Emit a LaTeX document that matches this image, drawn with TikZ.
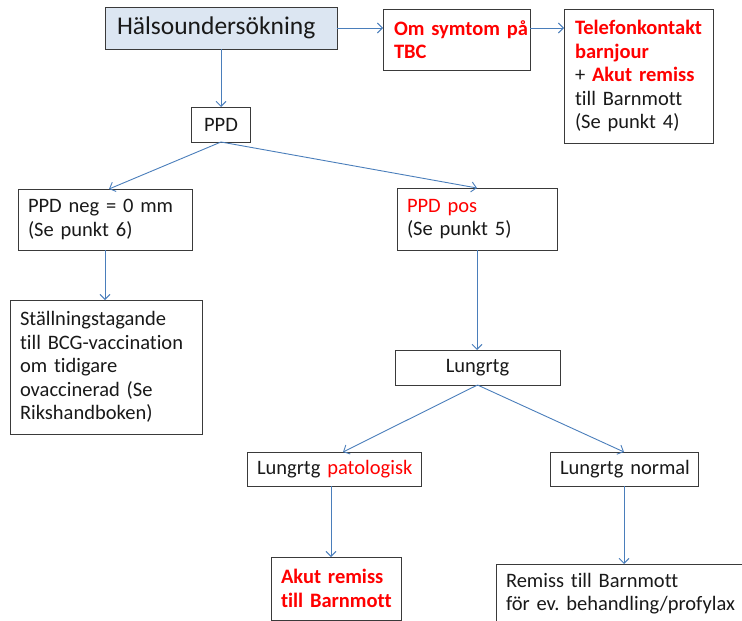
\documentclass[tikz,border=0pt]{standalone}
\usepackage{fontspec}
\setmainfont{Carlito}[WordSpace={0.72,0.3,0.3},Ligatures=NoCommon]
\usetikzlibrary{arrows.meta,calc}
\definecolor{boxc}{HTML}{3A3A3A}
\definecolor{linec}{HTML}{4A7EBB}
\definecolor{hfill}{HTML}{DCE6F2}
\definecolor{redt}{HTML}{FF0000}
\newcommand{\rb}[1]{\textcolor{redt}{\bfseries #1}}
\newcommand{\rt}[1]{\textcolor{redt}{#1}}
\tikzset{
  box/.style={draw=boxc, line width=0.9pt, inner xsep=10pt, inner ysep=0pt,
    align=left, outer sep=0pt, text=black!90,
    execute at begin node={\hyphenpenalty=10000\exhyphenpenalty=10000},
    font=\fontsize{20.5}{23.5}\selectfont},
  conn/.style={draw=linec, line width=0.9pt, -{Straight Barb[length=5pt,width=10pt,line width=0.9pt]}},
}
\begin{document}
\begin{tikzpicture}[x=1pt,y=-1pt]
\useasboundingbox (0,0) rectangle (742,621);
\node[box, fill=hfill, text width=208pt, minimum height=42pt, inner xsep=12pt,
  font=\fontsize{25.5}{28}\selectfont] (hals) at (221,28) {Hälsoundersökning};
\node[box, text width=125pt, minimum height=61pt, inner xsep=11pt] (oms) at (456.5,39.5)
  {\rb{Om~symtom~på}\\\rb{TBC}};
\node[box, text width=127pt, minimum height=134pt, inner xsep=11pt] (tel) at (638.5,76)
  {\rb{Telefonkontakt}\\\rb{barnjour}\\+ \rb{Akut remiss}\\till Barnmott\\(Se punkt 4)};
\node[box, align=center, text width=39pt, minimum height=35pt] (ppd) at (221,124.5) {PPD};
\node[box, text width=154pt, minimum height=61pt] (neg) at (105,219.5)
  {PPD~neg~=~0~mm\\(Se punkt 6)};
\node[box, text width=140pt, minimum height=62pt] (pos) at (477,219)
  {\rt{PPD pos}\\(Se punkt 5)};
\node[box, text width=172pt, minimum height=134pt] (stall) at (106,367)
  {Ställningstagande\\till~BCG-vaccination\\om tidigare\\ovaccinerad (Se\\Rikshandboken)};
\node[box, align=center, text width=145pt, minimum height=35pt] (lung) at (477.5,367.5) {Lungrtg};
\node[box, text width=154pt, minimum height=34pt] (pat) at (334,469)
  {Lungrtg~\rt{patologisk}};
\node[box, text width=128pt, minimum height=34pt] (norm) at (624,469)
  {Lungrtg~normal};
\node[box, text width=110pt, minimum height=63pt] (akut) at (336,588.5)
  {\rb{Akut~remiss}\\\rb{till~Barnmott}};
\node[box, text width=229pt, minimum height=59pt] (rem) at (620.5,593.5)
  {Remiss till Barnmott\\för~ev.~behandling/profylax};
\draw[conn] (hals.east) -- (hals.east -| oms.west);
\draw[conn] (oms.east |- hals.east) -- (tel.west |- hals.east);
\draw[conn] (hals.south) -- (ppd.north);
\draw[conn] (ppd.south) -- ($(neg.north)+(4,0)$);
\draw[conn] (ppd.south) -- (pos.north);
\draw[conn] (neg.south) -- (stall.north -| neg.south);
\draw[conn] (pos.south) -- (lung.north -| pos.south);
\draw[conn] (lung.south) -- ($(pat.north)+(9,0)$);
\draw[conn] (lung.south) -- (norm.north);
\draw[conn] ($(pat.south)+(-3,0)$) -- ($(akut.north)+(-5,0)$);
\draw[conn] (norm.south) -- (rem.north -| norm.south);
\end{tikzpicture}
\end{document}
